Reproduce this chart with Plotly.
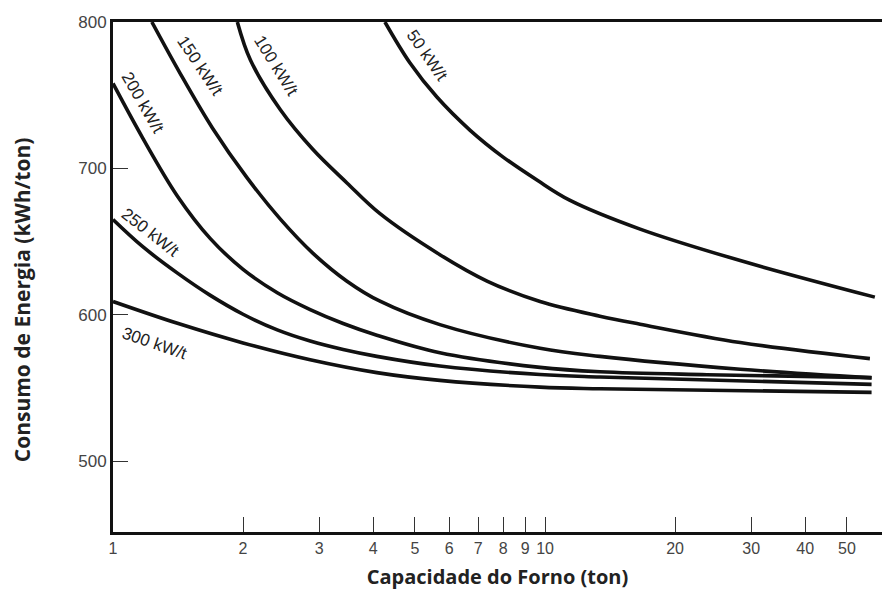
import plotly.graph_objects as go
import math

# Data (capacity in ton, energy in kWh/ton)
x_50 = [4.26, 4.87, 5.62, 6.71, 8.0, 9.58, 11.4, 16.6, 28.3, 58.0]
y_50 = [800, 772, 748.7, 726, 707.7, 692, 678.3, 658.5, 637, 612]

x_100 = [1.94, 2.08, 2.44, 2.90, 3.48, 4.15, 5.71, 7.34, 9.74, 13.4, 16.6, 28.3, 56.5]
y_100 = [800, 774, 740, 713, 690, 669, 641, 623, 609, 599, 593.5, 581, 570]

x_150 = [1.23, 1.43, 1.70, 2.04, 2.44, 2.90, 3.48, 4.15, 5.71, 9.74, 13.4, 28.3, 57.0]
y_150 = [800, 764.9, 727.4, 693.8, 665.3, 642.1, 622.9, 609.2, 593.2, 577, 571.5, 562.7, 556.8]

x_200 = [1.0, 1.17, 1.41, 1.68, 2.0, 2.40, 2.86, 3.41, 4.08, 5.71, 9.74, 13.4, 23.7, 57.0]
y_200 = [758, 721, 681, 652, 631, 615, 603.5, 594, 586, 574, 564, 561, 559, 557]

x_250 = [1.0, 1.17, 1.41, 1.68, 2.0, 2.40, 2.86, 3.41, 4.08, 5.71, 9.74, 13.4, 57.0]
y_250 = [665, 646.6, 628.4, 613.2, 600.3, 589.6, 582, 576.2, 571.5, 564.9, 559.1, 557.4, 552.4]

x_300 = [1.0, 1.41, 2.0, 2.86, 4.08, 5.71, 9.74, 13.4, 57.0]
y_300 = [609, 594.1, 580.7, 569.2, 560.4, 555.1, 550.5, 549.4, 546.9]

series = [
    ("50 kW/t", x_50, y_50),
    ("100 kW/t", x_100, y_100),
    ("150 kW/t", x_150, y_150),
    ("200 kW/t", x_200, y_200),
    ("250 kW/t", x_250, y_250),
    ("300 kW/t", x_300, y_300),
]

# label positions (x in ton, y in kWh/ton) and angles
label_x = [5.33, 2.38, 1.59, 1.17, 1.22, 1.25]
label_y = [777, 770, 770.6, 745, 656.5, 580.6]
label_angle = [55, 58, 56, 60, 38, 19]

x_ticks = [1, 2, 3, 4, 5, 6, 7, 8, 9, 10, 20, 30, 40, 50]
y_ticks = [500, 600, 700, 800]

x_title = "Capacidade do Forno (ton)"
y_title = "Consumo de Energia (kWh/ton)"

fig = go.Figure()
for name, xs, ys in series:
    fig.add_trace(go.Scatter(x=xs, y=ys, mode="lines", name=name,
                             line=dict(color="#111111", width=3.6, shape="spline", smoothing=1.0),
                             showlegend=False, hoverinfo="skip"))

for (name, _, _), lx, ly, ang in zip(series, label_x, label_y, label_angle):
    fig.add_annotation(x=math.log10(lx), y=ly, xref="x", yref="y", text=name,
                       showarrow=False, textangle=ang,
                       font=dict(family="Liberation Sans, Arial", size=17, color="#222222"))

# y-axis title (placed slightly below the plot centre, as in the original)
fig.add_annotation(x=-0.118, y=0.455, xref="paper", yref="paper", text=y_title,
                   showarrow=False, textangle=-90, xanchor="center", yanchor="middle",
                   font=dict(family="Open Sans", size=21, color="#222222", weight="bold"))

fig.update_xaxes(type="log", range=[0, 1.780], tickvals=x_ticks,
                 ticktext=[str(v) for v in x_ticks], automargin=False,
                 showline=True, linecolor="#111111", linewidth=3, mirror=True,
                 ticks="inside", ticklen=15, tickwidth=1.2, tickcolor="#333333",
                 showgrid=False, zeroline=False,
                 tickfont=dict(family="Liberation Sans, Arial", size=16, color="#444444"),
                 title=dict(text=x_title, standoff=14,
                            font=dict(family="Open Sans", size=20, color="#222222", weight="bold")))
fig.update_yaxes(range=[451.5, 800], tickvals=y_ticks, automargin=False,
                 showline=True, linecolor="#111111", linewidth=3,
                 ticks="inside", ticklen=15, tickwidth=1.2, tickcolor="#333333",
                 showgrid=False, zeroline=False,
                 tickfont=dict(family="Liberation Sans, Arial", size=17, color="#444444"))

fig.update_layout(width=882, height=594, margin=dict(l=113, r=0, t=22, b=62),
                  plot_bgcolor="white", paper_bgcolor="white")

fig.write_html("out.html", config={"displayModeBar": False},
               post_script="document.body.style.margin='0';")
